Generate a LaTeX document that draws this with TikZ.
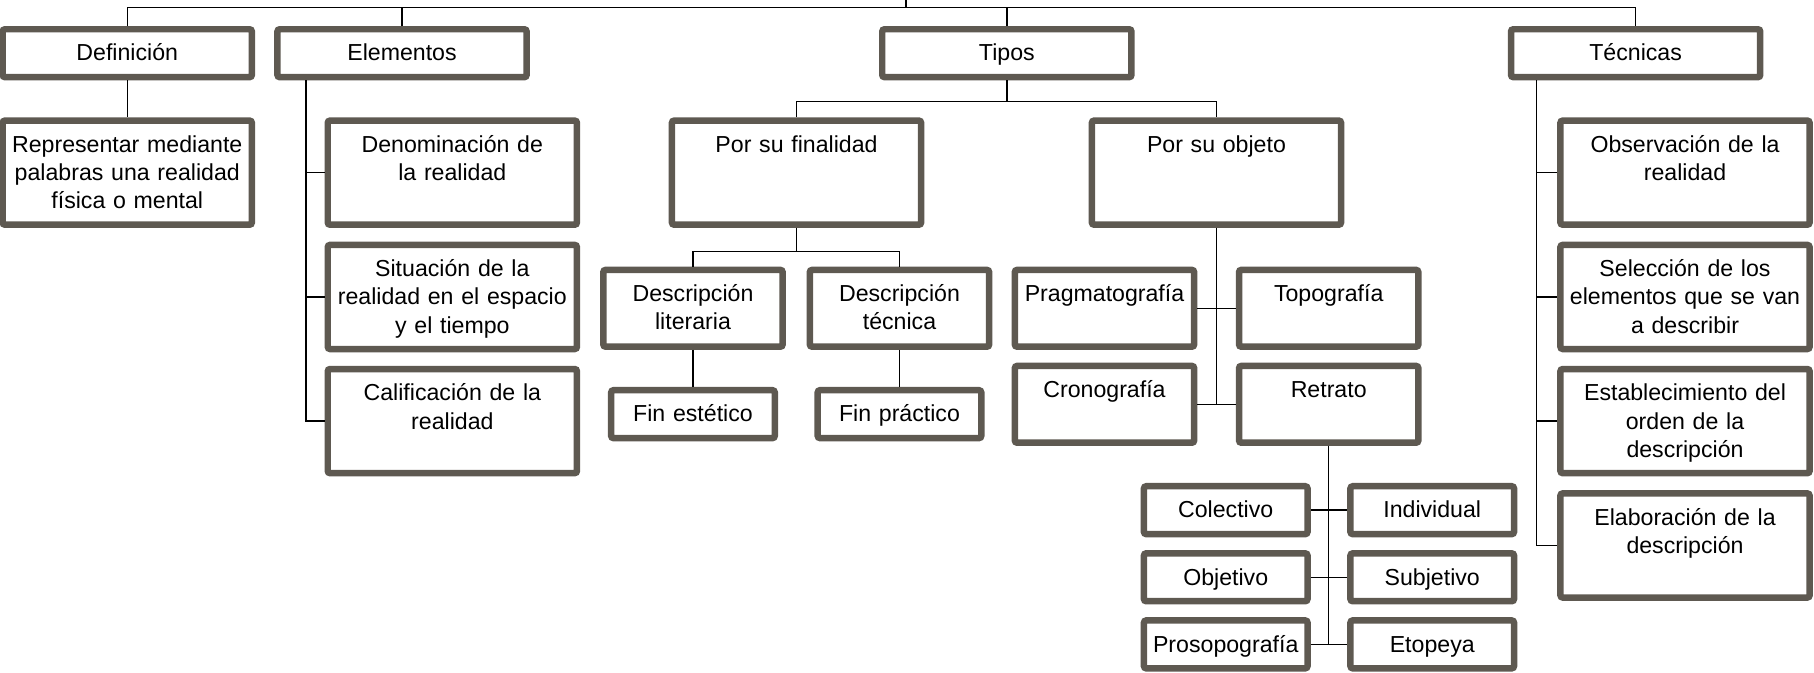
\documentclass[tikz,border=0pt]{standalone}
\usepackage{fontspec}
\setmainfont{Liberation Sans}
\usepackage{tikz}
\definecolor{boxc}{RGB}{94,89,81}

\begin{document}
\begin{tikzpicture}[
						x=0.5pt, y=-0.5pt,
						box/.style = {draw=boxc, line width=2.8pt, rounded corners=1pt, inner sep=0pt, align=center, text height=13.7pt, font=\fontsize{10pt}{12.25pt}\selectfont},
						wide/.style = {box, text width=107.7pt, text depth=7pt},
						tall/.style = {box, text width=107.7pt, text depth=31.3pt},
						mid/.style = {box, text width=77.5pt, text depth=19.5pt},
						small/.style = {box, text width=70.7pt, text depth=7pt},
						link/.style = {draw, line width=0.6pt}
					]
\useasboundingbox (0,0) rectangle (1568,581);

\node[wide] (defin) at (110,46) {Definición};
\node[tall] (repr) at (110,149.25) {Representar mediante\\palabras una realidad\\física o mental};
\node[wide] (elem) at (347.5,46) {Elementos};
\node[tall] (denom) at (391,149.25) {Denominación de\\la realidad};
\node[tall] (situa) at (391,256.7) {Situación de la\\realidad en el espacio\\y el tiempo};
\node[tall] (calif) at (391,364) {Calificación de la\\realidad};
\node[wide] (tipos) at (870.3,46) {Tipos};
\node[tall] (final) at (688.5,149.25) {Por su finalidad};
\node[tall] (objeto) at (1051.5,149.25) {Por su objeto};
\node[mid] (lit) at (599,266.5) {Descripción\\literaria};
\node[mid] (tec) at (777.5,266.5) {Descripción\\técnica};
\node[small] (estet) at (599,358) {Fin estético};
\node[small] (pract) at (777.5,358) {Fin práctico};
\node[mid] (prag) at (954.7,266.5) {Pragmatografía};
\node[mid] (topo) at (1148.5,266.5) {Topografía};
\node[mid] (crono) at (954.7,349.5) {Cronografía};
\node[mid] (retrato) at (1148.5,349.5) {Retrato};
\node[small] (colec) at (1059.5,441) {Colectivo};
\node[small] (indiv) at (1238,441) {Individual};
\node[small] (objet) at (1059.5,499) {Objetivo};
\node[small] (subj) at (1238,499) {Subjetivo};
\node[small] (proso) at (1059.5,557) {Prosopografía};
\node[small] (etop) at (1238,557) {Etopeya};
\node[wide] (tecn) at (1413.8,46) {Técnicas};
\node[tall] (obs) at (1456.5,149.25) {Observación de la\\realidad};
\node[tall] (selec) at (1456.5,256.7) {Selección de los\\elementos que se van\\a describir};
\node[tall] (estab) at (1456.5,364) {Establecimiento del\\orden de la\\descripción};
\node[tall] (elab) at (1456.5,471.5) {Elaboración de la\\descripción};

\coordinate (root) at (783,0);
\coordinate (bus) at (783,6.6);
\draw[link] (root) -- (bus);
\draw[link] (defin.north) |- (bus) -| (tecn.north);
\draw[link] (elem.north) |- (bus);
\draw[link] (tipos.north) |- (bus);
\draw[link] (defin.south) -- (repr.north);
\draw[link] (elem.south west) ++(27.5,0) |- (denom.west);
\draw[link] (elem.south west) ++(27.5,0) |- (situa.west);
\draw[link] (elem.south west) ++(27.5,0) |- (calif.west);
\draw[link] (tipos.south) -- ++(0,18.3) coordinate (tbus);
\draw[link] (final.north) |- (tbus) -| (objeto.north);
\draw[link] (final.south) -- ++(0,20.25) coordinate (fbus);
\draw[link] (lit.north) |- (fbus) -| (tec.north);
\draw[link] (lit.south) -- (estet.north);
\draw[link] (tec.south) -- (pract.north);
\draw[link] (objeto.south) -- (objeto.south |- crono.east);
\draw[link] (prag.east) -- (topo.west);
\draw[link] (crono.east) -- (retrato.west);
\draw[link] (retrato.south) -- (retrato.south |- proso.east);
\draw[link] (colec.east) -- (indiv.west);
\draw[link] (objet.east) -- (subj.west);
\draw[link] (proso.east) -- (etop.west);
\draw[link] (tecn.south west) ++(25,0) |- (obs.west);
\draw[link] (tecn.south west) ++(25,0) |- (selec.west);
\draw[link] (tecn.south west) ++(25,0) |- (estab.west);
\draw[link] (tecn.south west) ++(25,0) |- (elab.west);
\end{tikzpicture}
\end{document}
